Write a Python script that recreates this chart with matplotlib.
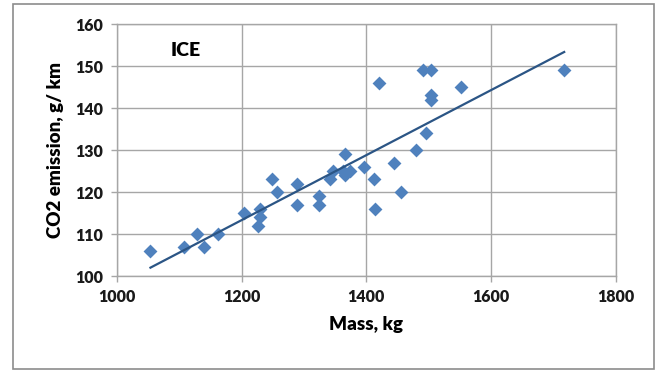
import numpy as np
import matplotlib
matplotlib.use("Agg")
import matplotlib.pyplot as plt
from matplotlib.patches import Rectangle

# vehicle mass (kg) and CO2 emission (g/km)
mass = [1054, 1108, 1128, 1139, 1163, 1204, 1230, 1230, 1226, 1249,
        1257, 1289, 1289, 1324, 1324, 1342, 1346, 1365, 1363, 1366,
        1374, 1396, 1412, 1414, 1420, 1444, 1455, 1480, 1490, 1496,
        1504, 1504, 1504, 1551, 1717]
co2 = [106, 107, 110, 107, 110, 115, 116, 114, 112, 123,
       120, 122, 117, 119, 117, 123, 125, 129, 125, 124,
       125, 126, 123, 116, 146, 127, 120, 130, 149, 134,
       149, 143, 142, 145, 149]

xticks = [1000, 1200, 1400, 1600, 1800]
yticks = [100, 110, 120, 130, 140, 150, 160]

font = ['Lato', 'DejaVu Sans']
point_color = '#4F81BD'
line_color = '#2B5585'
grid_color = '#A6A6A6'

fig = plt.figure(figsize=(6.56, 3.70), dpi=100)
ax = fig.add_axes([0.178, 0.254, 0.761, 0.681])

# outer chart border
fig.patches.append(Rectangle((13 / 656, 1 - 369 / 370), 641 / 656, 365 / 370,
                             transform=fig.transFigure, fill=False,
                             edgecolor='#8C8C8C', linewidth=1.2))

ax.scatter(mass, co2, marker='D', s=50, color=point_color, zorder=3,
           linewidths=0)

# linear trend line over the data range
k, b = np.polyfit(mass, co2, 1)
tx = np.array([min(mass), max(mass)])
ax.plot(tx, k * tx + b, color=line_color, linewidth=1.6, zorder=4)

ax.set_xlim(xticks[0], xticks[-1])
ax.set_ylim(yticks[0], yticks[-1])
ax.set_xticks(xticks)
ax.set_yticks(yticks)
ax.grid(True, color=grid_color, linewidth=1.0)
ax.set_axisbelow(True)
for s in ax.spines.values():
    s.set_color(grid_color)
    s.set_linewidth(1.0)
ax.tick_params(direction='out', length=4.5, width=1.0, color=grid_color,
               pad=5)

for lab in ax.get_xticklabels() + ax.get_yticklabels():
    lab.set_family(font)
    lab.set_fontweight('heavy')
    lab.set_fontsize(11.5)
    lab.set_color('#1a1a1a')

ax.set_xlabel('Mass, kg', family=font, fontweight='heavy', fontsize=13.5,
              labelpad=8)
ax.set_ylabel('CO2 emission, g/ km', family=font, fontweight='heavy',
              fontsize=13.5, labelpad=8)
ax.text(0.139, 0.897, 'ICE', transform=ax.transAxes, family=font,
        fontweight='heavy', fontsize=14, ha='center', va='center')

fig.savefig('out.png', dpi=100)
